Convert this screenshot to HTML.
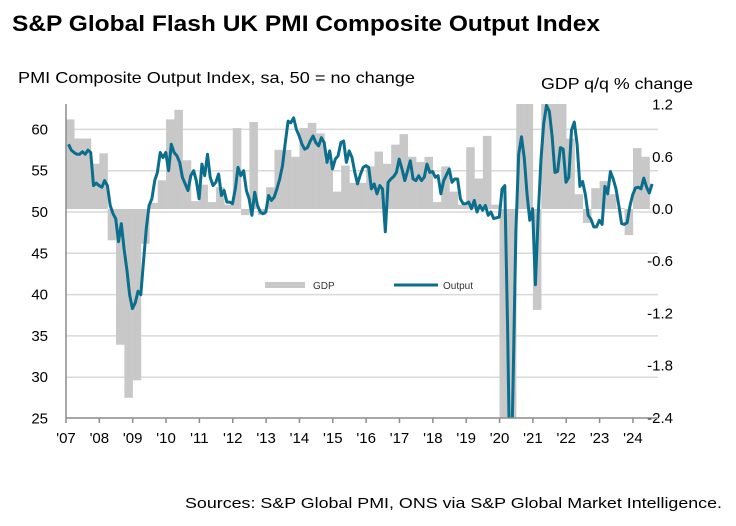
<!DOCTYPE html>
<html><head><meta charset="utf-8">
<style>
html,body{margin:0;padding:0;background:#fff;width:736px;height:526px;overflow:hidden;font-family:"Liberation Sans",Arial,sans-serif;position:relative;}
svg{display:block;position:absolute;left:0;top:0;overflow:hidden}
text{font-family:"Liberation Sans",Arial,sans-serif;}
</style></head>
<body>
<svg id="chart" width="736" height="526" viewBox="0 0 736 526">
<text x="12" y="31" font-size="22" font-weight="bold" fill="#000" textLength="588" lengthAdjust="spacingAndGlyphs">S&amp;P Global Flash UK PMI Composite Output Index</text>
<text x="18" y="83" font-size="16" fill="#000" textLength="397" lengthAdjust="spacingAndGlyphs">PMI Composite Output Index, sa, 50 = no change</text>
<text x="541" y="89" font-size="16" fill="#000" textLength="152" lengthAdjust="spacingAndGlyphs">GDP q/q % change</text>
<text x="185" y="508" font-size="15" fill="#000" textLength="537" lengthAdjust="spacingAndGlyphs">Sources: S&amp;P Global PMI, ONS via S&amp;P Global Market Intelligence.</text>
<defs><clipPath id="plotclip"><rect x="66" y="104" width="600" height="314"/></clipPath></defs>
<g id="grid"></g>
<g id="bars" clip-path="url(#plotclip)"></g>
<g id="line" clip-path="url(#plotclip)"></g>
<g id="axes"></g>
<g id="legend">
<rect x="265" y="282" width="40" height="6" fill="#c8c8c8"/>
<text x="313" y="289" font-size="10" fill="#333">GDP</text>
<line x1="394" y1="285" x2="438" y2="285" stroke="#0b6e8c" stroke-width="3"/>
<text x="443" y="289" font-size="10" fill="#333">Output</text>
</g>
</svg>
<script>
const years = ["'07","'08","'09","'10","'11","'12","'13","'14","'15","'16","'17","'18","'19","'20","'21","'22","'23","'24"];
const leftTicks = [25,30,35,40,45,50,55,60];
const rightTicks = [-2.4,-1.8,-1.2,-0.6,0.0,0.6,1.2];
const rightTickLabels = ["-2.4","-1.8","-1.2","-0.6","0.0","0.6","1.2"];
// GDP quarterly q/q % (Q1 2007 .. Q2 2024)
const gdp = [1.03,0.81,0.81,0.52, 0.64,-0.36,-1.56,-2.17, -1.97,-0.4,0.07,0.33, 1.03,1.14,0.56,0.09,
 0.28,0.08,0.25,0.05, 0.93,-0.07,1.0,-0.07, 0.25,0.68,0.68,0.6, 0.93,0.99,0.87,0.55,
 0.2,0.5,0.3,0.3, 0.49,0.66,0.52,0.74, 0.86,0.6,0.54,0.6, 0.08,0.49,0.2,0.05,
 0.71,0.35,0.84,0.05, -2.6,-19,16,1.5, -1.16,6.5,1.7,1.5, 0.81,0.17,-0.16,0.24,
 0.32,0.17,0.01,-0.3, 0.7,0.6];
// PMI composite output monthly (Jan 2007 .. Jul 2024)
const pmi = [
58.2,57.5,57.2,57.0,57.0,57.3,57.0,57.5,57.2,53.2,53.5,53.2,
53.0,53.8,53.2,50.8,49.8,49.2,46.4,48.6,45.5,43.0,40.0,38.3,
39.0,40.4,40.0,44.0,48.0,50.8,51.6,53.8,54.8,57.2,56.6,57.2,
55.0,58.2,57.2,56.8,56.0,54.2,53.4,52.6,54.4,55.0,53.8,51.6,
55.8,54.4,57.0,54.2,53.2,53.6,54.6,52.0,52.6,51.2,51.2,51.0,
52.8,55.4,54.4,55.0,52.6,51.6,49.6,52.4,50.8,50.0,49.8,50.0,
52.0,51.4,51.8,52.8,54.0,55.6,58.4,61.0,60.8,61.4,60.0,59.2,
58.2,57.6,57.8,58.6,59.2,58.4,58.0,59.0,58.4,56.0,57.4,55.2,
56.4,56.8,58.4,58.6,56.0,57.4,56.6,54.8,53.4,54.5,55.4,55.6,
55.4,52.8,53.4,52.2,53.2,52.8,47.6,53.6,54.0,54.3,54.8,56.4,
55.2,53.8,55.0,56.2,54.0,53.8,54.4,53.8,54.2,55.8,54.8,54.9,
54.2,54.4,52.2,53.8,54.5,55.2,53.6,54.0,54.0,51.6,51.0,51.0,
51.2,50.4,51.4,50.0,50.8,50.2,50.8,49.6,50.0,49.2,49.3,49.4,
52.8,53.2,36.0,13.8,30.0,47.7,57.0,59.1,56.5,52.1,49.0,50.4,
41.2,49.6,56.4,60.7,62.9,62.2,59.2,54.8,54.9,57.8,57.6,53.6,
54.2,59.9,60.9,58.2,53.1,53.7,52.1,49.6,49.1,48.2,48.2,49.0,
48.5,53.1,52.2,54.9,54.0,52.8,50.8,48.6,48.5,48.7,50.7,52.1,
52.9,53.0,52.8,54.1,53.0,52.3,53.4];

const NS="http://www.w3.org/2000/svg";
const X0=66, YEARW=33.35, XR=658;
const xMonth = m => X0 + YEARW*(m+0.9)/12;
const xQ = q => X0 + YEARW*q/4;
const yL = v => 212 - (v-50)*8.26;
const yR = v => 209 - v*87;
function mk(tag, attrs, parent){const e=document.createElementNS(NS,tag);for(const k in attrs)e.setAttribute(k,attrs[k]);parent.appendChild(e);return e;}
const grid=document.getElementById('grid'), axes=document.getElementById('axes');
leftTicks.forEach(v=>{
  if(v>25){const g=mk('line',{x1:X0,x2:XR,y1:yL(v),y2:yL(v),stroke:'#d9d9d9','stroke-width':1.5},grid);
  
  }
  const t=mk('text',{x:48,y:yL(v)+5,'font-size':15,'text-anchor':'end',fill:'#000'},axes);
  t.textContent=v;
  
  
});
rightTicks.forEach((v,i)=>{
  const t=mk('text',{x:673,y:yR(v)+5,'font-size':15,'text-anchor':'end',fill:'#000'},axes);
  t.textContent=rightTickLabels[i];
  
  
});
const bars=document.getElementById('bars');
gdp.forEach((v,i)=>{
  const y0=yR(0), y1=yR(v);
  const r=mk('rect',{x:xQ(i),width:YEARW/4+0.2,y:Math.min(y0,y1),height:Math.abs(y1-y0),fill:'#c8c8c8'},bars);
  
  
});
const pts=pmi.map((v,i)=>xMonth(i).toFixed(1)+','+yL(v).toFixed(1)).join(' ');
const pl=mk('polyline',{points:pts,fill:'none',stroke:'#0b6e8c','stroke-width':3,'stroke-linejoin':'round'},document.getElementById('line'));


const la=mk('line',{x1:X0,x2:X0,y1:104,y2:418,stroke:'#8c8c8c','stroke-width':1.5},axes);


const ba=mk('line',{x1:X0,x2:XR,y1:418,y2:418,stroke:'#8c8c8c','stroke-width':1.5},axes);


years.forEach((lab,i)=>{
  const x=X0+YEARW*i;
  const tk=mk('line',{x1:x,x2:x,y1:418,y2:423,stroke:'#8c8c8c','stroke-width':1.5},axes);
  
  
  const t=mk('text',{x:x,y:443,'font-size':15,'text-anchor':'middle',fill:'#000'},axes);
  t.textContent=lab;
  
  
});
</script>
</body></html>
